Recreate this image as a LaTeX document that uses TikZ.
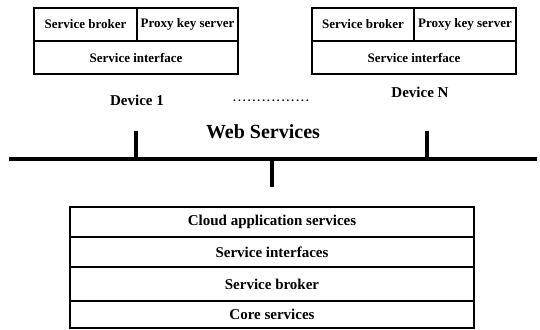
\documentclass[tikz,border=0pt]{standalone}
\usepackage{fontspec}
\setmainfont{Liberation Serif}
\begin{document}
\begin{tikzpicture}[x=1pt,y=-1pt,
  cell/.style={draw,line width=1.6pt,inner sep=0pt,outer sep=0pt,anchor=north west,
    font=\fontsize{13}{15}\selectfont\bfseries},
  layer/.style={cell,minimum width=404pt,font=\fontsize{15}{17}\selectfont\bfseries},
  devlabel/.style={inner sep=0pt,font=\fontsize{15}{17}\selectfont\bfseries},
  bus/.style={line width=4pt}]
\useasboundingbox (0,0) rectangle (540,329);
% Device 1
\node[cell,minimum width=103pt,minimum height=33pt] (b1) at (34,8) {Service broker};
\node[cell,minimum width=101pt,minimum height=33pt] (p1) at (137,8) {Proxy key server};
\node[cell,minimum width=204pt,minimum height=33pt] (i1) at (34,41) {Service interface};
\node[devlabel] (d1) at (137,100) {Device 1};
% Device N
\node[cell,minimum width=102pt,minimum height=33pt] (bN) at (312,8) {Service broker};
\node[cell,minimum width=102pt,minimum height=33pt] (pN) at (414,8) {Proxy key server};
\node[cell,minimum width=204pt,minimum height=33pt] (iN) at (312,41) {Service interface};
\node[devlabel] (dN) at (420,92) {Device N};
% dots
\node[inner sep=0pt,font=\fontsize{11}{13}\selectfont\bfseries] (dots) at (271,101)
  {\hbox to 78pt{\xleaders\hbox to 4.6pt{\hss.\hss}\hfill}};
% Web services bus
\node[inner sep=0pt,font=\fontsize{20}{22}\selectfont\bfseries] (ws) at (263,132) {Web Services};
\coordinate (busL) at (9,159);
\coordinate (busR) at (537,159);
\coordinate (t1top) at (136,131);
\coordinate (t1bot) at (136,159);
\coordinate (tNtop) at (427,131);
\coordinate (tNbot) at (427,159);
\coordinate (tMtop) at (272,159);
\coordinate (tMbot) at (272,187);
\draw[bus] (busL) -- (busR);
\draw[bus] (t1top) -- (t1bot);
\draw[bus] (tNtop) -- (tNbot);
\draw[bus] (tMtop) -- (tMbot);
% Cloud stack
\node[layer,minimum height=30pt] (cas) at (70,207) {Cloud application services};
\node[layer,minimum height=30pt] (sis) at (70,237) {Service interfaces};
\node[layer,minimum height=34pt] (sb) at (70,267) {Service broker};
\node[layer,minimum height=27pt] (cs) at (70,301) {Core services};
\end{tikzpicture}
\end{document}
